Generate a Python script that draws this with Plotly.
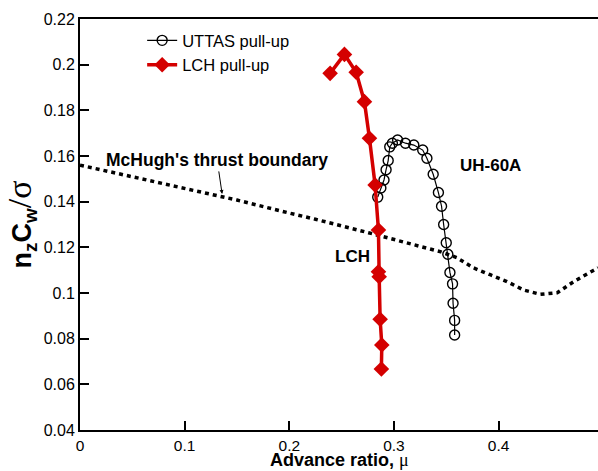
import plotly.graph_objects as go

# UTTAS pull-up (UH-60A)
uttas_mu = [0.2845, 0.2875, 0.2905, 0.2925, 0.2945, 0.2960, 0.2985, 0.3035, 0.3110,
            0.3190, 0.3275, 0.3315, 0.3375, 0.3425, 0.3455, 0.3475, 0.3500, 0.3515,
            0.3535, 0.3560, 0.3565, 0.3580, 0.3580]
uttas_cw = [0.142, 0.146, 0.1495, 0.154, 0.158, 0.164, 0.1656, 0.167, 0.1656,
            0.1648, 0.1626, 0.159, 0.152, 0.144, 0.138, 0.130, 0.122, 0.117,
            0.109, 0.104, 0.0955, 0.088, 0.0816]

# LCH pull-up
lch_mu = [0.239, 0.2527, 0.2639, 0.2718, 0.2766, 0.2820, 0.2852, 0.2852, 0.2859, 0.2868, 0.2884, 0.2880]
lch_cw = [0.1962, 0.2045, 0.1967, 0.1838, 0.1678, 0.1473, 0.1276, 0.1093, 0.1071, 0.0885, 0.0772, 0.0667]

# McHugh's thrust boundary
mch_mu = [0.0, 0.05, 0.10, 0.134, 0.15, 0.20, 0.225, 0.2756, 0.30, 0.345, 0.36,
          0.376, 0.392, 0.408, 0.424, 0.44, 0.456, 0.472, 0.491, 0.495]
mch_cw = [0.156, 0.1508, 0.1457, 0.1422, 0.1407, 0.1350, 0.1323, 0.1264, 0.1235, 0.118, 0.1155,
          0.111, 0.108, 0.105, 0.1013, 0.0994, 0.1001, 0.105, 0.110, 0.111]

x_ticks = [0, 0.1, 0.2, 0.3, 0.4]
x_ticklabels = ["0", "0.1", "0.2", "0.3", "0.4"]
y_ticks = [0.04, 0.06, 0.08, 0.1, 0.12, 0.14, 0.16, 0.18, 0.2, 0.22]
y_ticklabels = ["0.04", "0.06", "0.08", "0.1", "0.12", "0.14", "0.16", "0.18", "0.2", "0.22"]

FONT = "Liberation Sans, Arial, sans-serif"
RED = "#d40000"

fig = go.Figure()

fig.add_trace(go.Scatter(
    x=mch_mu, y=mch_cw, mode="lines", showlegend=False,
    line=dict(color="black", width=3.5, dash="4px,4px"),
))

fig.add_trace(go.Scatter(
    x=uttas_mu, y=uttas_cw, mode="lines+markers", name="UTTAS pull-up",
    line=dict(color="black", width=1.2),
    marker=dict(symbol="circle-open", size=10, color="black", line=dict(width=1.4, color="black")),
))

fig.add_trace(go.Scatter(
    x=lch_mu, y=lch_cw, mode="lines+markers", name="LCH pull-up",
    line=dict(color=RED, width=3.5),
    marker=dict(symbol="diamond", size=12, color=RED),
))

# label with pointer arrow to the boundary curve
fig.add_annotation(x=0.1358, y=0.1434, xref="x", yref="y",
                   text="<b>McHugh's thrust boundary</b>", showarrow=True,
                   arrowhead=2, arrowsize=0.8, arrowwidth=1, arrowcolor="black",
                   ax=-5, ay=-34, standoff=0,
                   font=dict(family=FONT, size=17.5, color="black"))
fig.add_annotation(x=0.392, y=0.156, xref="x", yref="y", text="<b>UH-60A</b>",
                   showarrow=False, xanchor="center", yanchor="middle",
                   font=dict(family=FONT, size=17, color="black"))
fig.add_annotation(x=0.260, y=0.116, xref="x", yref="y", text="<b>LCH</b>",
                   showarrow=False, xanchor="center", yanchor="middle",
                   font=dict(family=FONT, size=17, color="black"))
# x-axis title
fig.add_annotation(x=0.5, y=0, xref="paper", yref="paper", yshift=-41,
                   text="<b>Advance ratio, </b><span style='font-family:serif'>μ</span>",
                   showarrow=False, xanchor="center", yanchor="bottom", borderpad=0,
                   font=dict(family=FONT, size=18, color="black"))

fig.update_layout(
    width=598, height=471,
    margin=dict(l=80, r=0, t=19, b=41),
    paper_bgcolor="white", plot_bgcolor="white",
    font=dict(family=FONT, size=16, color="black"),
    legend=dict(x=0.12, y=0.99, xanchor="left", yanchor="top",
                bgcolor="rgba(0,0,0,0)", font=dict(family=FONT, size=16.5, color="black"),
                tracegroupgap=0, itemsizing="trace"),
    xaxis=dict(range=[0, 0.495], tickvals=x_ticks, ticktext=x_ticklabels,
               ticks="inside", ticklen=9, tickwidth=2, tickcolor="black",
               showline=True, linecolor="black", linewidth=2, mirror=True,
               showgrid=False, zeroline=False,
               tickfont=dict(family=FONT, size=15.5, color="black")),
    yaxis=dict(range=[0.04, 0.22], tickvals=y_ticks, ticktext=y_ticklabels,
               ticks="inside", ticklen=9, tickwidth=2, tickcolor="black",
               showline=True, linecolor="black", linewidth=2, mirror=False,
               showgrid=False, zeroline=False,
               tickfont=dict(family=FONT, size=16, color="black"),
               title=dict(text="<b>n<sub>z</sub>C<sub>w</sub></b><span style='font-family:serif;font-size:34px'>/σ</span>",
                          font=dict(family=FONT, size=27, color="black"), standoff=4)),
)

fig.write_html("out.html")
